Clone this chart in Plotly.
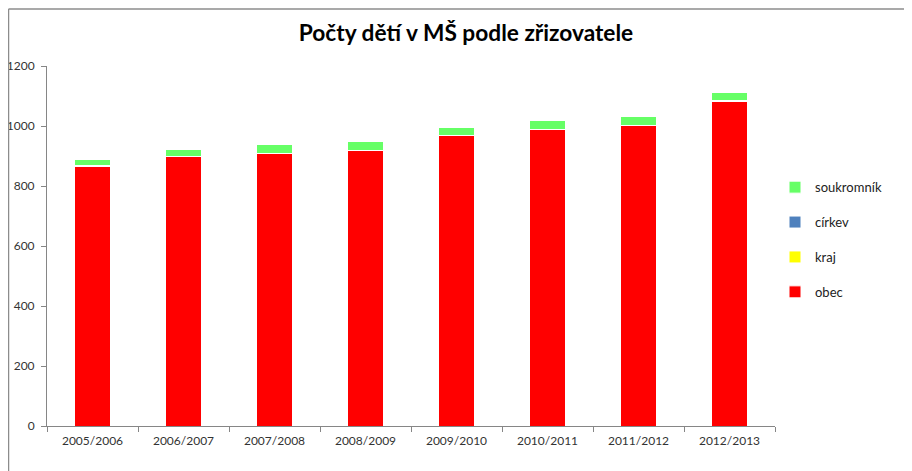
import plotly.graph_objects as go

years = ["2005/2006", "2006/2007", "2007/2008", "2008/2009",
         "2009/2010", "2010/2011", "2011/2012", "2012/2013"]
obec = [866, 897, 907, 917, 968, 988, 1001, 1082]
kraj = [1, 1, 1, 1, 1, 1, 1, 1]
cirkev = [1, 1, 1, 1, 1, 1, 1, 1]
soukromnik = [19, 24, 29, 28, 24, 29, 29, 29]

series = [
    ("obec", obec, "#FF0000", 4),
    ("kraj", kraj, "#FFFF00", 3),
    ("církev", cirkev, "#4F81BD", 2),
    ("soukromník", soukromnik, "#66FF66", 1),
]

fig = go.Figure()
for name, vals, col, rank in series:
    fig.add_trace(go.Bar(
        x=years, y=vals, name=name, legendgroup=name, legendrank=rank,
        marker=dict(color=col, line=dict(color="white", width=1)),
        width=0.40,
    ))

W, H = 904, 463
L, R, T, B = 39, 137, 58, 45
pw, ph = W - L - R, H - T - B

font_family = "Lato, 'Open Sans', sans-serif"
fig.update_layout(
    barmode="stack",
    width=W, height=H,
    paper_bgcolor="white", plot_bgcolor="white",
    margin=dict(l=L, r=R, t=T, b=B, autoexpand=False),
    title=dict(text="<b>Počty dětí v MŠ podle zřizovatele</b>",
               x=458 / W, xanchor="center", y=1 - 25 / H, yanchor="middle",
               font=dict(family=font_family, size=22.7, color="black")),
    font=dict(family=font_family, size=12, color="#333333"),
    showlegend=True,
    legend=dict(x=1.0, xanchor="left", y=0.705, yanchor="top",
                traceorder="grouped", tracegroupgap=15,
                font=dict(size=13, color="#222222"),
                itemwidth=30),
    xaxis=dict(showline=True, linecolor="#868686", linewidth=1,
               ticks="outside", ticklen=5, tickcolor="#868686",
               tickson="boundaries", showgrid=False, ticklabelstandoff=4,
               automargin=False,
               tickfont=dict(size=12, color="#333333")),
    yaxis=dict(range=[0, 1200], dtick=200, showline=True,
               linecolor="#868686", linewidth=1, ticks="outside",
               ticklen=5, tickcolor="#868686", showgrid=False,
               zeroline=False, ticklabelstandoff=4, automargin=False,
               tickfont=dict(size=12, color="#333333")),
    bargap=0.6,
)

# chart frame (top and left edges visible)
ytop = (H - B - 1) / ph
xleft = -(L - 0.5) / pw
fig.add_shape(type="line", xref="paper", yref="paper",
              x0=xleft, x1=1.3, y0=ytop, y1=ytop,
              line=dict(color="#8C8C8C", width=1.5))
fig.add_shape(type="line", xref="paper", yref="paper",
              x0=xleft, x1=xleft, y0=-0.2, y1=ytop,
              line=dict(color="#8C8C8C", width=1.5))

fig.write_html("out.html")
